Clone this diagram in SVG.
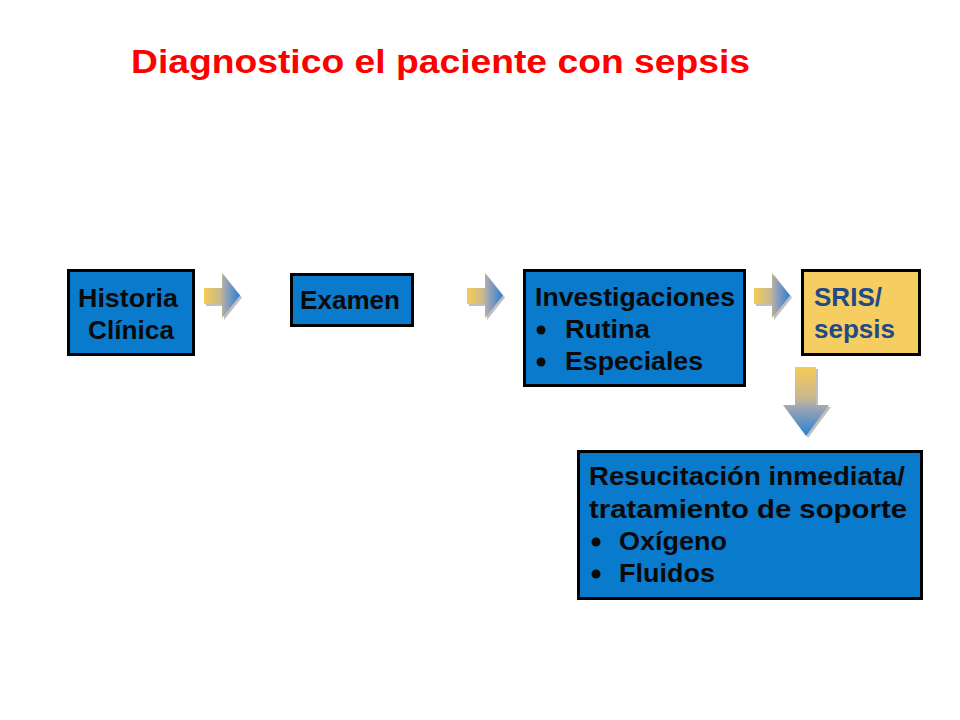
<svg xmlns="http://www.w3.org/2000/svg" width="960" height="720" viewBox="0 0 960 720">
<defs>
<linearGradient id="gh" x1="0" y1="0" x2="1" y2="0">
<stop offset="0" stop-color="#f6cc55"/>
<stop offset="0.45" stop-color="#c8b890"/>
<stop offset="0.6" stop-color="#9aa4b4"/>
<stop offset="1" stop-color="#2a80d4"/>
</linearGradient>
<linearGradient id="gv" x1="0" y1="0" x2="0" y2="1">
<stop offset="0" stop-color="#f6cc55"/>
<stop offset="0.45" stop-color="#c8b890"/>
<stop offset="0.6" stop-color="#9aa4b4"/>
<stop offset="1" stop-color="#2a80d4"/>
</linearGradient>
<path id="ra" d="M0,15 H18 V0 L36,22.5 L18,45 V31 H0 Z"/>
<path id="da" d="M12,0 H33 V38 H46 L23,69 L0,38 H12 Z"/>
</defs>
<style>
.box{fill:#0a7acc;stroke:#000;stroke-width:3}
.ybox{fill:#f5cd60;stroke:#000;stroke-width:3}
.t{font-family:"Liberation Sans",Arial,sans-serif;font-weight:bold;font-size:26px;fill:#0a0a0a}
.ty{fill:#1f4a86}
.title{font-family:"Liberation Sans",Arial,sans-serif;font-weight:bold;font-size:33px;fill:#ff0000}
.sh{fill:#8a8a8a;opacity:0.55}
.dot{fill:#0a0a0a}
</style>
<rect width="960" height="720" fill="#fff"/>
<text class="title" x="131" y="73" textLength="619" lengthAdjust="spacingAndGlyphs">Diagnostico el paciente con sepsis</text>
<g id="connectors">
<use href="#ra" x="206" y="275" class="sh"/>
<use href="#ra" x="204" y="273" fill="url(#gh)"/>
<use href="#ra" x="469" y="275" class="sh"/>
<use href="#ra" x="467" y="273" fill="url(#gh)"/>
<use href="#ra" x="756" y="275" class="sh"/>
<use href="#ra" x="754" y="273" fill="url(#gh)"/>
<use href="#da" x="785" y="369" class="sh"/>
<use href="#da" x="783" y="367" fill="url(#gv)"/>
</g>
<g id="historia">
<rect class="box" x="68.5" y="270.5" width="125" height="84"/>
<text class="t" x="78" y="307" textLength="100" lengthAdjust="spacingAndGlyphs">Historia</text>
<text class="t" x="88" y="339" textLength="86" lengthAdjust="spacingAndGlyphs">Clínica</text>
</g>
<g id="examen">
<rect class="box" x="291.5" y="274.5" width="121" height="51"/>
<text class="t" x="300" y="309" textLength="100" lengthAdjust="spacingAndGlyphs">Examen</text>
</g>
<g id="investigaciones">
<rect class="box" x="524.5" y="270.5" width="220" height="115"/>
<text class="t" x="535" y="306" textLength="200" lengthAdjust="spacingAndGlyphs">Investigaciones</text>
<circle class="dot" cx="541" cy="330" r="4.5"/>
<text class="t" x="565" y="338" textLength="85" lengthAdjust="spacingAndGlyphs">Rutina</text>
<circle class="dot" cx="541" cy="362" r="4.5"/>
<text class="t" x="565" y="370" textLength="138" lengthAdjust="spacingAndGlyphs">Especiales</text>
</g>
<g id="sris">
<rect class="ybox" x="802.5" y="270.5" width="117" height="84"/>
<text class="t ty" x="814" y="306" textLength="68" lengthAdjust="spacingAndGlyphs">SRIS/</text>
<text class="t ty" x="814" y="338" textLength="81" lengthAdjust="spacingAndGlyphs">sepsis</text>
</g>
<g id="resucitacion">
<rect class="box" x="578.5" y="451.5" width="343" height="147"/>
<text class="t" x="589" y="485" textLength="316" lengthAdjust="spacingAndGlyphs">Resucitación inmediata/</text>
<text class="t" x="589" y="518" textLength="318" lengthAdjust="spacingAndGlyphs">tratamiento de soporte</text>
<circle class="dot" cx="596" cy="542" r="4.5"/>
<text class="t" x="619" y="550" textLength="108" lengthAdjust="spacingAndGlyphs">Oxígeno</text>
<circle class="dot" cx="596" cy="574" r="4.5"/>
<text class="t" x="619" y="582" textLength="96" lengthAdjust="spacingAndGlyphs">Fluidos</text>
</g>
</svg>
